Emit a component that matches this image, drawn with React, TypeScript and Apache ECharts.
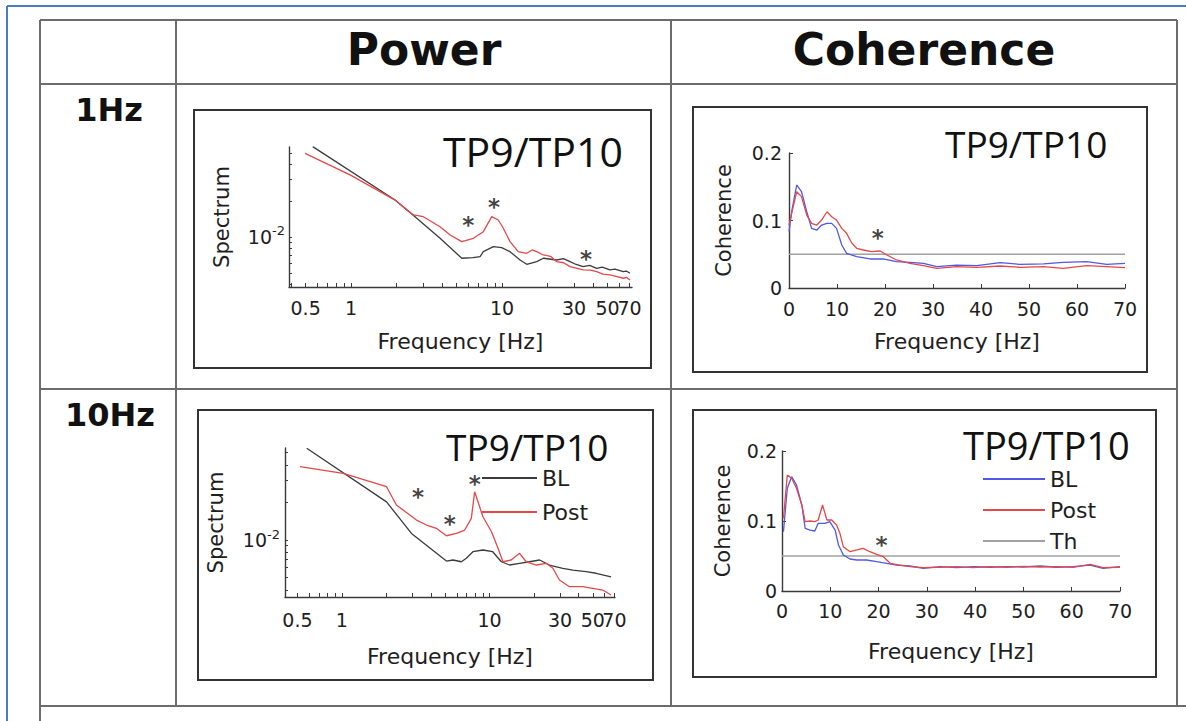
import React, { useEffect, useRef } from "react";
import * as echarts from "echarts";

// ---------------- DATA ----------------
const headers = ["Power", "Coherence"];
const rowLabels = ["1Hz", "10Hz"];
const panelTitle = "TP9/TP10";

// label order chosen so that the neighbouring 50 / 70 labels are both kept
const powerTickLabels = [70, 0.5, 1, 10, 30, 50];
const powerXTicks = [0.4, 0.5, 0.6, 0.7, 0.8, 0.9, 1, 2, 3, 4, 5, 6, 7, 8, 9, 10, 20, 30, 40, 50, 60, 70];
const powerYTickLabels = [0.01];
const powerYTicks = [0.004, 0.005, 0.006, 0.007, 0.008, 0.009, 0.01, 0.02, 0.03, 0.04, 0.05];
const threshold = 0.05;
const thFreq = [0, 70];

// 1 Hz – Power
const p1BLFreq = [0.557, 1.956, 2.724, 3.886, 5.41, 6.43, 7.15, 7.52, 8.76, 9.95, 11.3, 13.16, 14.58, 16.98, 18.77, 23.0, 25.5, 28.2, 31.0, 34.5, 38.0, 42.4, 46.0, 51.9, 56.0, 63.6, 66.5, 70.4];
const p1BLPow = [0.0566, 0.0203, 0.01432, 0.00975, 0.00665, 0.00672, 0.00685, 0.00754, 0.0083, 0.00814, 0.00754, 0.00643, 0.00592, 0.00623, 0.00665, 0.00643, 0.0066, 0.00623, 0.0059, 0.00566, 0.0058, 0.00548, 0.0056, 0.00531, 0.0054, 0.00514, 0.0052, 0.00498];
const p1PostFreq = [0.496, 0.985, 1.956, 2.586, 3.01, 3.886, 4.53, 5.41, 6.46, 7.52, 8.55, 9.45, 10.2, 11.3, 12.8, 14.58, 15.8, 16.98, 18.77, 21.0, 23.0, 25.6, 28.2, 31.0, 34.5, 38.5, 42.4, 46.5, 51.9, 57.0, 63.6, 67.0, 70.4];
const p1PostPow = [0.0498, 0.0329, 0.0203, 0.01525, 0.01476, 0.01218, 0.01039, 0.00914, 0.00975, 0.01107, 0.01476, 0.01386, 0.01182, 0.00914, 0.00754, 0.00731, 0.0078, 0.00754, 0.00708, 0.0069, 0.00623, 0.0061, 0.00566, 0.0055, 0.00531, 0.0053, 0.00514, 0.0049, 0.00483, 0.0047, 0.00453, 0.0046, 0.00438];
const p1StarFreq = [5.98, 8.85, 36.0];
const p1StarPow = [0.01432, 0.0203, 0.00754];

// 1 Hz – Coherence
const c1BLFreq = [0, 0.56, 1.6, 2.6, 3.7, 4.7, 5.8, 6.8, 7.9, 8.9, 9.9, 11.0, 12.0, 14.1, 16.9, 19.6, 22.4, 25.2, 28.0, 30.8, 34.9, 39.1, 44.0, 48.1, 53.0, 57.1, 62.0, 66.2, 70];
const c1BLCoh = [0.0834, 0.113, 0.1526, 0.1427, 0.113, 0.0884, 0.0859, 0.0933, 0.0958, 0.0958, 0.0884, 0.0637, 0.0514, 0.0464, 0.043, 0.043, 0.039, 0.038, 0.0366, 0.0316, 0.034, 0.033, 0.0375, 0.035, 0.0356, 0.038, 0.039, 0.0351, 0.0366];
const c1PostFreq = [0, 1.6, 2.6, 3.7, 4.7, 5.8, 6.8, 7.9, 8.9, 9.9, 11.0, 12.0, 13.1, 14.1, 15.5, 17.2, 19.0, 20.4, 22.4, 25.2, 28.0, 30.8, 34.9, 39.1, 44.0, 48.1, 53.0, 57.1, 62.0, 66.2, 70];
const c1PostCoh = [0.0933, 0.1427, 0.1353, 0.108, 0.0958, 0.0933, 0.1007, 0.113, 0.1056, 0.1007, 0.0884, 0.081, 0.0662, 0.0588, 0.0563, 0.0538, 0.0548, 0.0489, 0.0415, 0.0366, 0.033, 0.0292, 0.0316, 0.0307, 0.0326, 0.0307, 0.0316, 0.0292, 0.033, 0.0316, 0.0301];
const c1StarFreq = [18.5];
const c1StarCoh = [0.0844];

// 10 Hz – Power
const p3BLFreq = [0.578, 2.005, 2.958, 5.10, 5.65, 6.44, 6.96, 7.71, 9.01, 10.5, 12.0, 13.65, 15.95, 18.6, 21.8, 25.4, 31.3, 36.6, 45.0, 52.6, 66.4];
const p3BLPow = [0.0542, 0.0202, 0.0113, 0.00679, 0.00692, 0.0067, 0.00714, 0.00806, 0.00832, 0.00806, 0.0067, 0.00631, 0.00651, 0.0067, 0.00692, 0.00631, 0.00594, 0.00575, 0.00558, 0.00542, 0.00508];
const p3PostFreq = [0.52, 1.02, 2.005, 2.34, 3.2, 3.74, 4.36, 5.10, 5.96, 6.78, 7.52, 7.92, 8.34, 9.01, 10.3, 11.4, 12.3, 14.0, 15.95, 17.7, 20.7, 24.2, 26.8, 29.7, 34.7, 42.7, 49.9, 58.3, 66.4];
const p3PostPow = [0.0386, 0.0342, 0.0267, 0.01905, 0.01445, 0.01318, 0.0124, 0.01082, 0.0113, 0.01202, 0.01491, 0.02435, 0.02025, 0.01536, 0.01165, 0.00858, 0.0067, 0.00692, 0.00783, 0.0067, 0.00631, 0.00651, 0.00594, 0.00479, 0.00423, 0.00423, 0.00411, 0.00398, 0.00363];
const p3StarFreq = [3.28, 5.37, 7.92];
const p3StarPow = [0.0251, 0.01536, 0.0321];

// 10 Hz – Coherence
const c4BLFreq = [0.3, 1.1, 2.0, 3.0, 4.1, 4.8, 5.8, 6.8, 7.5, 8.9, 9.9, 11.0, 11.7, 12.7, 14.1, 15.5, 17.5, 19.6, 21.7, 23.7, 26.5, 29.3, 32.7, 36.2, 39.6, 43.1, 46.5, 50.0, 53.4, 56.9, 60.3, 63.8, 66.5, 70];
const c4BLCoh = [0.0847, 0.1467, 0.1633, 0.1514, 0.1229, 0.0896, 0.0871, 0.0857, 0.0967, 0.0967, 0.099, 0.0871, 0.0657, 0.0514, 0.0457, 0.0443, 0.0443, 0.0419, 0.0396, 0.0371, 0.0357, 0.0324, 0.0347, 0.0333, 0.0347, 0.0339, 0.0347, 0.0343, 0.0357, 0.0339, 0.0347, 0.0371, 0.0324, 0.0347];
const c4PostFreq = [0.3, 1.1, 2.0, 3.0, 4.1, 4.8, 5.8, 6.8, 7.5, 8.4, 9.3, 10.3, 11.3, 12.0, 12.7, 14.1, 15.5, 16.8, 18.2, 19.6, 21.0, 22.4, 24.4, 26.5, 29.3, 32.7, 36.2, 39.6, 43.1, 46.5, 50.0, 53.4, 56.9, 60.3, 63.8, 66.5, 70];
const c4PostCoh = [0.1039, 0.1657, 0.161, 0.1467, 0.1229, 0.099, 0.1, 0.099, 0.1014, 0.1229, 0.1014, 0.1014, 0.0943, 0.0824, 0.0633, 0.0561, 0.0586, 0.061, 0.0561, 0.0524, 0.049, 0.0396, 0.0371, 0.0347, 0.0333, 0.0339, 0.0347, 0.0333, 0.0347, 0.0339, 0.0353, 0.0343, 0.0347, 0.0339, 0.0381, 0.0333, 0.0339];
const c4StarFreq = [20.6];
const c4StarCoh = [0.0753];

// ---------------- STYLE / LAYOUT ----------------
const FONT = "DejaVu Sans";
const AX = "#3a3a3a";
const TXT = "#1e1e1e";
const BLACK = "#3b3b3b";
const RED = "#e54848";
const BLUE = "#5058e6";
const GRAY = "#a0a0a0";

const L = (v: number) => Math.log10(v);
const logPairs = (f: number[], p: number[]) => f.map((x, i) => [L(x), L(p[i])]);
const pairs = (f: number[], c: number[]) => f.map((x, i) => [x, c[i]]);

const axisLineStyle = { show: true, onZero: false, lineStyle: { color: AX, width: 1.4 } };

function logXAxis(gridIndex: number, range: number[], margin: number, nameGap: number) {
  const lo = L(range[0]);
  const hi = L(range[1]);
  return {
    type: "value",
    gridIndex,
    min: lo,
    max: hi,
    axisLine: axisLineStyle,
    axisTick: {
      show: true,
      inside: true,
      length: 4,
      customValues: powerXTicks.map(L).filter((v) => v >= lo && v <= hi),
      lineStyle: { color: AX },
    },
    axisLabel: {
      show: true,
      hideOverlap: false,
      customValues: powerTickLabels.map(L),
      formatter: (v: number) => String(Math.round(Math.pow(10, v) * 100) / 100),
      margin,
      color: TXT,
      fontFamily: FONT,
      fontSize: 19,
    },
    splitLine: { show: false },
    name: "Frequency [Hz]",
    nameLocation: "middle",
    nameGap,
    nameMoveOverlap: false,
    nameTextStyle: { fontFamily: FONT, fontSize: 22, color: TXT },
  };
}

function logYAxis(gridIndex: number, range: number[], margin: number, nameGap: number) {
  const lo = L(range[0]);
  const hi = L(range[1]);
  return {
    type: "value",
    gridIndex,
    min: lo,
    max: hi,
    axisLine: axisLineStyle,
    axisTick: {
      show: true,
      inside: true,
      length: 3,
      customValues: powerYTicks.map(L).filter((v) => v >= lo && v <= hi),
      lineStyle: { color: AX },
    },
    axisLabel: {
      show: true,
      customValues: powerYTickLabels.map(L),
      formatter: (v: number) => `{b|10}{s|${Math.round(v)}}`,
      margin,
      rich: {
        b: { fontFamily: FONT, fontSize: 19, color: TXT },
        s: { fontFamily: FONT, fontSize: 13, color: TXT, padding: [0, 0, 12, 0] },
      },
    },
    splitLine: { show: false },
    name: "Spectrum",
    nameLocation: "middle",
    nameGap,
    nameMoveOverlap: false,
    nameTextStyle: { fontFamily: FONT, fontSize: 21, color: TXT },
  };
}

function cohXAxis(gridIndex: number, margin: number, nameGap: number) {
  return {
    type: "value",
    gridIndex,
    min: 0,
    max: 70,
    interval: 10,
    axisLine: axisLineStyle,
    axisTick: { show: true, inside: true, length: 4, lineStyle: { color: AX } },
    axisLabel: { margin, color: TXT, fontFamily: FONT, fontSize: 19 },
    splitLine: { show: false },
    name: "Frequency [Hz]",
    nameLocation: "middle",
    nameGap,
    nameMoveOverlap: false,
    nameTextStyle: { fontFamily: FONT, fontSize: 22, color: TXT },
  };
}

function cohYAxis(gridIndex: number, margin: number, nameGap: number) {
  return {
    type: "value",
    gridIndex,
    min: 0,
    max: 0.2,
    interval: 0.1,
    axisLine: axisLineStyle,
    axisTick: { show: true, inside: true, length: 4, lineStyle: { color: AX } },
    axisLabel: {
      margin,
      color: TXT,
      fontFamily: FONT,
      fontSize: 19,
      formatter: (v: number) => (v === 0 ? "0" : v.toFixed(1)),
    },
    splitLine: { show: false },
    name: "Coherence",
    nameLocation: "middle",
    nameGap,
    nameMoveOverlap: false,
    nameTextStyle: { fontFamily: FONT, fontSize: 21, color: TXT },
  };
}

function lineSeries(name: string, idx: number, data: number[][], color: string, z = 2) {
  return {
    type: "line",
    name,
    xAxisIndex: idx,
    yAxisIndex: idx,
    data,
    symbol: "none",
    silent: true,
    z,
    lineStyle: { color, width: 1.3 },
    itemStyle: { color },
  };
}

function starSeries(name: string, idx: number, data: number[][]) {
  return {
    type: "scatter",
    name,
    xAxisIndex: idx,
    yAxisIndex: idx,
    data,
    symbol: "circle",
    symbolSize: 1,
    silent: true,
    z: 5,
    itemStyle: { color: "rgba(0,0,0,0)" },
    label: {
      show: true,
      position: "inside",
      formatter: "*",
      fontFamily: FONT,
      fontWeight: "bold",
      fontSize: 23,
      color: "#111",
      offset: [0, 7],
    },
  };
}

function hLine(x1: number, x2: number, y: number, stroke: string, w: number) {
  return { type: "line", silent: true, shape: { x1, y1: y, x2, y2: y }, style: { stroke, lineWidth: w } };
}
function vLine(x: number, y1: number, y2: number, stroke: string, w: number) {
  return { type: "line", silent: true, shape: { x1: x, y1, x2: x, y2 }, style: { stroke, lineWidth: w } };
}
function box(x: number, y: number, width: number, height: number) {
  return {
    type: "rect",
    silent: true,
    shape: { x, y, width, height },
    style: { fill: "none", stroke: "#333", lineWidth: 2 },
  };
}
function text(t: string, x: number, y: number, size: number, family: string, weight: string, align: string) {
  return {
    type: "text",
    silent: true,
    x,
    y,
    style: {
      text: t,
      fontSize: size,
      fontFamily: family,
      fontWeight: weight,
      fill: "#111",
      align,
      verticalAlign: "middle",
    },
  };
}

function buildOption() {
  const TABLE = "#6c6c6c";
  const BLUEBORDER = "#4a7cc2";
  const legendText = { fontFamily: FONT, fontSize: 22, color: TXT };
  return {
    animation: false,
    backgroundColor: "#ffffff",
    grid: [
      { left: 289, top: 147, width: 343, height: 140, outerBoundsMode: "none" },
      { left: 789, top: 153, width: 336, height: 135, outerBoundsMode: "none" },
      { left: 285, top: 448, width: 330, height: 149, outerBoundsMode: "none" },
      { left: 782, top: 451, width: 338, height: 140, outerBoundsMode: "none" },
    ],
    xAxis: [
      logXAxis(0, [0.388, 72.6], 11, 43),
      cohXAxis(1, 11, 42),
      logXAxis(2, [0.412, 70.6], 13, 48),
      cohXAxis(3, 10, 49),
    ],
    yAxis: [
      logYAxis(0, [0.00383, 0.0562], 4, 57),
      cohYAxis(1, 7, 55),
      logYAxis(2, [0.0035, 0.0545], 5, 59),
      cohYAxis(3, 5, 49),
    ],
    legend: [
      {
        data: ["BL|p3", "Post|p3"],
        left: 482,
        top: 467,
        orient: "vertical",
        icon: "rect",
        itemWidth: 55,
        itemHeight: 2,
        itemGap: 12,
        padding: 0,
        selectedMode: false,
        formatter: (n: string) => n.split("|")[0],
        textStyle: legendText,
      },
      {
        data: ["BL|p4", "Post|p4", "Th|p4"],
        left: 983,
        top: 468,
        orient: "vertical",
        icon: "rect",
        itemWidth: 62,
        itemHeight: 2,
        itemGap: 9,
        padding: 0,
        selectedMode: false,
        formatter: (n: string) => n.split("|")[0],
        textStyle: legendText,
      },
    ],
    series: [
      // 1 Hz power
      lineSeries("BL|p1", 0, logPairs(p1BLFreq, p1BLPow), BLACK, 2),
      lineSeries("Post|p1", 0, logPairs(p1PostFreq, p1PostPow), RED, 3),
      starSeries("star|p1", 0, logPairs(p1StarFreq, p1StarPow)),
      // 1 Hz coherence
      lineSeries("Th|p2", 1, pairs(thFreq, thFreq.map(() => threshold)), GRAY, 1),
      lineSeries("BL|p2", 1, pairs(c1BLFreq, c1BLCoh), BLUE, 2),
      lineSeries("Post|p2", 1, pairs(c1PostFreq, c1PostCoh), RED, 3),
      starSeries("star|p2", 1, pairs(c1StarFreq, c1StarCoh)),
      // 10 Hz power
      lineSeries("BL|p3", 2, logPairs(p3BLFreq, p3BLPow), BLACK, 2),
      lineSeries("Post|p3", 2, logPairs(p3PostFreq, p3PostPow), RED, 3),
      starSeries("star|p3", 2, logPairs(p3StarFreq, p3StarPow)),
      // 10 Hz coherence
      lineSeries("Th|p4", 3, pairs(thFreq, thFreq.map(() => threshold)), GRAY, 1),
      lineSeries("BL|p4", 3, pairs(c4BLFreq, c4BLCoh), BLUE, 2),
      lineSeries("Post|p4", 3, pairs(c4PostFreq, c4PostCoh), RED, 3),
      starSeries("star|p4", 3, pairs(c4StarFreq, c4StarCoh)),
    ],
    graphic: [
      // blue frame
      hLine(7, 1186, 6, BLUEBORDER, 2),
      vLine(7, 6, 721, BLUEBORDER, 2),
      // table
      hLine(40, 1177, 20, TABLE, 2),
      hLine(40, 1177, 84, TABLE, 2),
      hLine(40, 1177, 389, TABLE, 2),
      hLine(40, 1186, 706, TABLE, 2),
      vLine(40, 20, 721, TABLE, 2),
      vLine(176, 20, 706, TABLE, 2),
      vLine(671, 20, 706, TABLE, 2),
      vLine(1177, 20, 706, TABLE, 2),
      // headers
      text(headers[0], 424, 49, 44, FONT, "bold", "center"),
      text(headers[1], 924, 49, 44, FONT, "bold", "center"),
      text(rowLabels[0], 109, 110, 32, FONT, "bold", "center"),
      text(rowLabels[1], 110, 415, 32, FONT, "bold", "center"),
      // panel boxes
      box(194, 110, 457, 258),
      box(693, 107, 454, 265),
      box(198, 410, 455, 270),
      box(693, 410, 463, 267),
      // panel titles
      text(panelTitle, 443, 151, 41, "Open Sans", "normal", "left"),
      text(panelTitle, 945, 143, 37, "Open Sans", "normal", "left"),
      text(panelTitle, 446, 446, 37, "Open Sans", "normal", "left"),
      text(panelTitle, 963, 445, 38, "Open Sans", "normal", "left"),
    ],
  };
}

export default function App() {
  const ref = useRef<HTMLDivElement>(null);
  useEffect(() => {
    const chart = echarts.init(ref.current as HTMLDivElement, null, { renderer: "svg" });
    chart.setOption(buildOption() as any);
    return () => chart.dispose();
  }, []);
  return (
    <div
      ref={ref}
      style={{ position: "fixed", left: 0, top: 0, width: 1186, height: 721, background: "#fff" }}
    />
  );
}
